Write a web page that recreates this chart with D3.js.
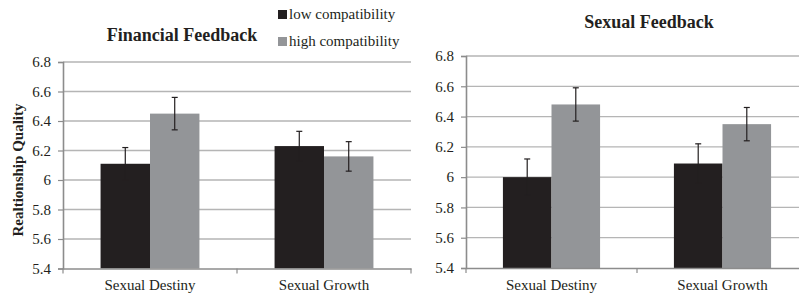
<!DOCTYPE html>
<html>
<head>
<script src="https://cdn.jsdelivr.net/npm/d3@7"></script>
<style>
  body { margin: 0; background: #fff; }
  svg text { font-family: "Liberation Serif", "Times New Roman", Times, serif !important; fill: #231f20; }
</style>
</head>
<body>
<div id="chart"></div>
<script>
// categories and series
var categories = ["Sexual Destiny", "Sexual Growth"];
var series = ["low compatibility", "high compatibility"];
var yTicks = [5.4, 5.6, 5.8, 6, 6.2, 6.4, 6.6, 6.8];

// financial feedback panel
var finLow = [6.11, 6.23];
var finHigh = [6.45, 6.16];
var finLowErr = [0.11, 0.10];
var finHighErr = [0.11, 0.10];

// sexual feedback panel
var sexLow = [6.00, 6.09];
var sexHigh = [6.48, 6.35];
var sexLowErr = [0.12, 0.13];
var sexHighErr = [0.11, 0.11];

var colors = ["#231f20", "#939598"];
var axisColor = "#8c8c8c";

var svg = d3.select("#chart").append("svg")
    .attr("width", 799)
    .attr("height", 296);

function drawPanel(opts) {
    var x = d3.scaleBand().domain(categories).range([opts.x0, opts.x1]);
    var y = d3.scaleLinear().domain([5.4, 6.8]).range([opts.y0, opts.y1]);
    var g = svg.append("g");

    // gridlines
    g.selectAll(".grid").data(yTicks.slice(1)).enter().append("line")
        .attr("x1", opts.x0).attr("x2", opts.x1)
        .attr("y1", function(d) { return y(d); }).attr("y2", function(d) { return y(d); })
        .attr("stroke", "#b5b5b5").attr("stroke-width", 1.3);

    var yAxis = d3.axisLeft(y).tickValues(yTicks).tickSize(5).tickPadding(7)
        .tickFormat(function(d) { return d3.format("")(d); });
    var ya = g.append("g").attr("transform", "translate(" + opts.x0 + ",0)").call(yAxis);
    ya.select(".domain").attr("stroke", axisColor).attr("stroke-width", 1.6);
    ya.selectAll(".tick line").attr("stroke", axisColor).attr("stroke-width", 1.2);
    ya.selectAll(".tick text").style("font-size", "15px");

    var sub = d3.scaleBand().domain([0, 1]).range([0, x.bandwidth()]).paddingInner(0).paddingOuter(0.76);

    var rows = [];
    categories.forEach(function(c, i) {
        rows.push({ cat: c, s: 0, v: opts.low[i], e: opts.lowErr[i] });
        rows.push({ cat: c, s: 1, v: opts.high[i], e: opts.highErr[i] });
    });

    g.selectAll(".bar").data(rows).enter().append("rect")
        .attr("x", function(d) { return x(d.cat) + sub(d.s); })
        .attr("width", sub.bandwidth())
        .attr("y", function(d) { return y(d.v); })
        .attr("height", function(d) { return y(5.4) - y(d.v); })
        .attr("fill", function(d) { return colors[d.s]; });

    // error bars
    var eb = g.selectAll(".err").data(rows).enter().append("g")
        .attr("transform", function(d) { return "translate(" + (x(d.cat) + sub(d.s) + sub.bandwidth() / 2) + ",0)"; });
    eb.append("line")
        .attr("y1", function(d) { return y(d.v - d.e); }).attr("y2", function(d) { return y(d.v + d.e); })
        .attr("stroke", "#231f20").attr("stroke-width", 1.2);
    eb.append("line")
        .attr("x1", -3).attr("x2", 3)
        .attr("y1", function(d) { return y(d.v + d.e); }).attr("y2", function(d) { return y(d.v + d.e); })
        .attr("stroke", "#231f20").attr("stroke-width", 1.2);
    eb.append("line")
        .attr("x1", -3).attr("x2", 3)
        .attr("y1", function(d) { return y(d.v - d.e); }).attr("y2", function(d) { return y(d.v - d.e); })
        .attr("stroke", "#231f20").attr("stroke-width", 1.2);

    // x axis
    var xAxis = d3.axisBottom(x).tickSize(0).tickPadding(11);
    var xa = g.append("g").attr("transform", "translate(0," + opts.y0 + ")").call(xAxis);
    xa.select(".domain").attr("stroke", axisColor).attr("stroke-width", 1.6);
    xa.selectAll(".tick text").style("font-size", "15px");
    // category separators
    g.selectAll(".sep").data([opts.x0, opts.x0 + x.bandwidth(), opts.x1]).enter().append("line")
        .attr("x1", function(d) { return d; }).attr("x2", function(d) { return d; })
        .attr("y1", opts.y0).attr("y2", opts.y0 + 5)
        .attr("stroke", axisColor).attr("stroke-width", 1.2);

    svg.append("text")
        .attr("x", opts.titleX).attr("y", opts.titleY)
        .attr("text-anchor", "middle")
        .style("font-size", "18px").style("font-weight", "bold")
        .text(opts.title);
}

drawPanel({ x0: 63, x1: 411, y0: 268.5, y1: 62, low: finLow, high: finHigh,
    lowErr: finLowErr, highErr: finHighErr, title: "Financial Feedback", titleX: 182, titleY: 41 });
drawPanel({ x0: 466, x1: 808, y0: 268, y1: 56, low: sexLow, high: sexHigh,
    lowErr: sexLowErr, highErr: sexHighErr, title: "Sexual Feedback", titleX: 649, titleY: 27.5 });

// y axis title
svg.append("text")
    .attr("transform", "translate(23,170) rotate(-90)")
    .attr("text-anchor", "middle")
    .style("font-size", "15px").style("font-weight", "bold")
    .text("Realtionship Quality");

// legend
var leg = svg.selectAll(".leg").data(series).enter().append("g")
    .attr("transform", function(d, i) { return "translate(278," + (10 + i * 27) + ")"; });
leg.append("rect").attr("width", 9).attr("height", 9)
    .attr("fill", function(d, i) { return colors[i]; });
leg.append("text").attr("x", 11).attr("y", 9)
    .style("font-size", "15px")
    .text(function(d) { return d; });
</script>
</body>
</html>
